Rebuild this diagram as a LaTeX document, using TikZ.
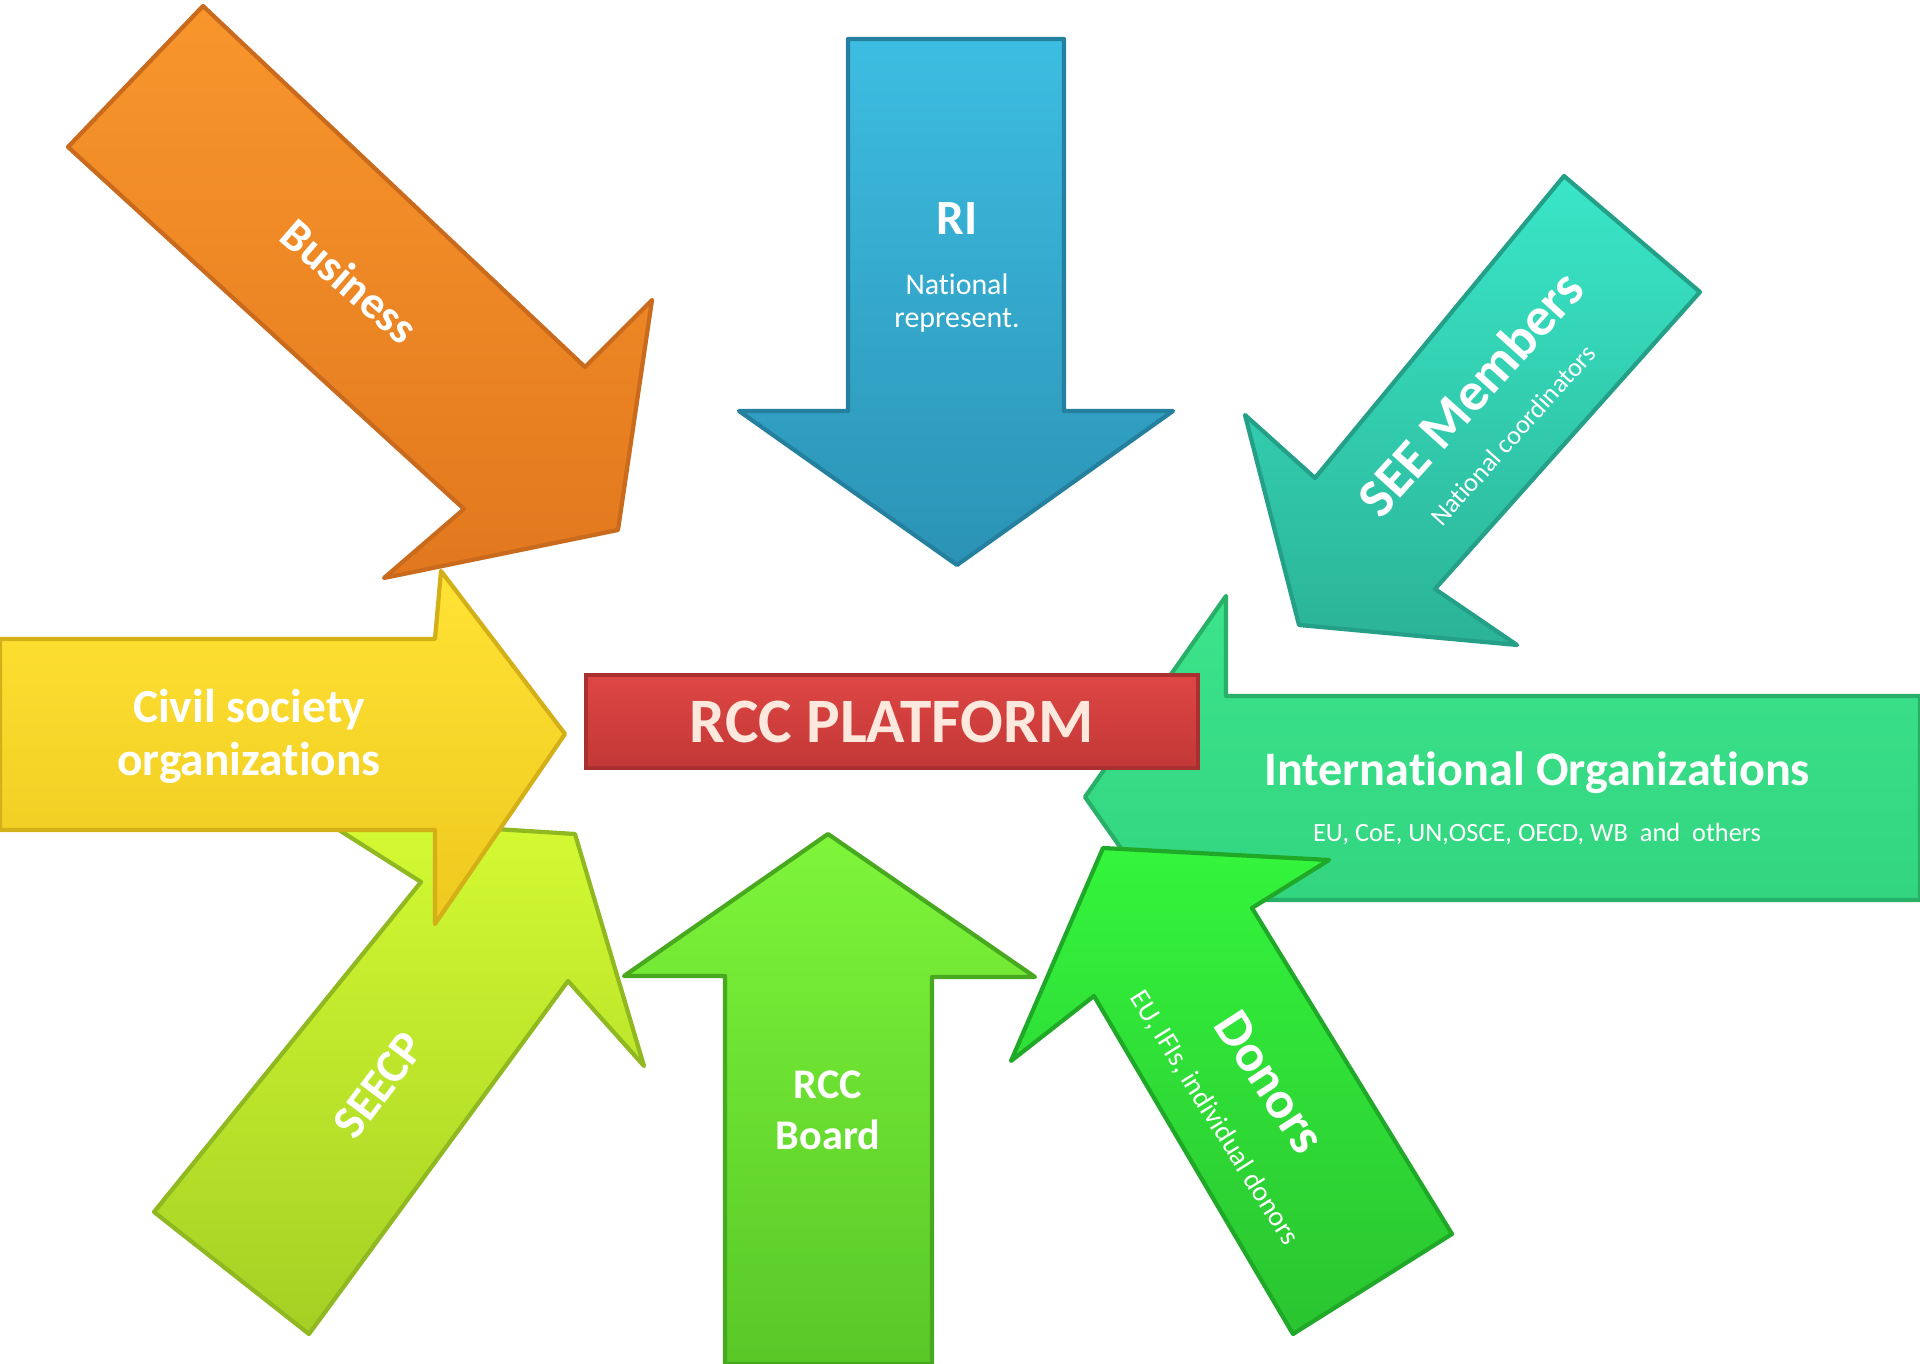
\documentclass[tikz,border=0pt]{standalone}
\usepackage{fontspec}
\setmainfont{Carlito}[Ligatures=NoCommon]
\usepackage{xcolor}
\definecolor{orangetop}{HTML}{F8962C}
\definecolor{orangebot}{HTML}{E2781E}
\definecolor{orangeedge}{HTML}{C96A1C}
\definecolor{bluetop}{HTML}{3DBDE2}
\definecolor{bluebot}{HTML}{2B93B5}
\definecolor{blueedge}{HTML}{2580A0}
\definecolor{tealtop}{HTML}{3AE6C8}
\definecolor{tealbot}{HTML}{2BB396}
\definecolor{tealedge}{HTML}{24A088}
\definecolor{yellowtop}{HTML}{FFE335}
\definecolor{yellowbot}{HTML}{EEC81E}
\definecolor{yellowedge}{HTML}{D4B018}
\definecolor{redtop}{HTML}{DE4644}
\definecolor{redbot}{HTML}{C23836}
\definecolor{rededge}{HTML}{A83030}
\definecolor{intltop}{HTML}{3CE48C}
\definecolor{intlbot}{HTML}{30D07C}
\definecolor{intledge}{HTML}{28B068}
\definecolor{boardtop}{HTML}{7EF53A}
\definecolor{boardbot}{HTML}{58C828}
\definecolor{boardedge}{HTML}{48A820}
\definecolor{donortop}{HTML}{34F53C}
\definecolor{donorbot}{HTML}{2AC430}
\definecolor{donoredge}{HTML}{20A828}
\definecolor{seecptop}{HTML}{D4FA32}
\definecolor{seecpbot}{HTML}{A4D024}
\definecolor{seecpedge}{HTML}{90B820}
\definecolor{platformtext}{HTML}{FCE8DC}

\begin{document}
\begin{tikzpicture}[x=0.01cm,y=-0.01cm,
  blockarrow/.style={line width=1.2pt,line join=round},
  biglabel/.style={text=white,align=center,font=\fontsize{#1}{#1}\selectfont\bfseries},
  smalllabel/.style={text=white,align=center,font=\fontsize{#1}{#1}\selectfont}]
\useasboundingbox (0,0) rectangle (1920,1364);

\draw[blockarrow,draw=seecpedge,top color=seecptop,bottom color=seecpbot] (154,1212) -- (421,882) -- (320,818) -- (575,834) -- (644,1066) -- (568,981) -- (309,1334) -- cycle;
\draw[blockarrow,draw=yellowedge,top color=yellowtop,bottom color=yellowbot] (0,639) -- (435,639) -- (441,571) -- (565,734) -- (435,924) -- (435,830) -- (0,830) -- cycle;
\draw[blockarrow,draw=orangeedge,top color=orangetop,bottom color=orangebot] (203,6) -- (585,367) -- (652,300) -- (618,530) -- (384,578) -- (464,509) -- (68,147) -- cycle;
\draw[blockarrow,draw=blueedge,top color=bluetop,bottom color=bluebot] (848,39) -- (1064,39) -- (1064,411) -- (1173,411) -- (957,565) -- (739,411) -- (848,411) -- cycle;
\draw[blockarrow,draw=tealedge,top color=tealtop,bottom color=tealbot] (1564,176) -- (1700,292) -- (1435,589) -- (1517,645) -- (1299,625) -- (1245,415) -- (1315,478) -- cycle;
\draw[blockarrow,draw=intledge,top color=intltop,bottom color=intlbot] (1920,696) -- (1226,696) -- (1226,596) -- (1085,797) -- (1226,998) -- (1226,900) -- (1920,900) -- cycle;
\node[draw=rededge,line width=1.2pt,top color=redtop,bottom color=redbot,minimum width=6.12cm,minimum height=0.93cm,text=platformtext,font=\fontsize{18}{18}\selectfont\bfseries] (platform) at (892,721.5) {RCC PLATFORM};
\draw[blockarrow,draw=boardedge,top color=boardtop,bottom color=boardbot] (828,834) -- (1035,977) -- (932,977) -- (932,1364) -- (725,1364) -- (725,976) -- (624,976) -- cycle;
\draw[blockarrow,draw=donoredge,top color=donortop,bottom color=donorbot] (1103,848) -- (1329,860) -- (1252,908) -- (1452,1234) -- (1293,1334) -- (1094,996) -- (1011,1061) -- cycle;

\node[biglabel=13,rotate=-41] (business) at (350,281) {Business};
\node[biglabel=14] (ri) at (957,219) {RI};
\node[smalllabel=8.5,font=\fontsize{8.5}{9.4}\selectfont] (rinational) at (957,303) {National\\represent.};
\node[biglabel=15.5,rotate=48] (seemembers) at (1470,393) {SEE Members};
\node[smalllabel=7.5,rotate=48] (seecoord) at (1513,435) {National coordinators};
\node[biglabel=13.5,font=\fontsize{13.5}{15}\selectfont\bfseries] (civil) at (249,736) {Civil society\\organizations};
\node[biglabel=13.7] (intl) at (1537,773) {International Organizations};
\node[smalllabel=7.5] (intlmembers) at (1537,834) {EU, CoE, UN,OSCE, OECD, WB\ \ and\ \ others};
\node[biglabel=13.5,rotate=53] (seecp) at (379,1085) {SEECP};
\node[biglabel=12,font=\fontsize{12}{14.5}\selectfont\bfseries] (board) at (828,1110) {RCC\\Board};
\node[biglabel=15,rotate=-57] (donors) at (1270,1082) {Donors};
\node[smalllabel=8,rotate=-58] (donorlist) at (1214,1118) {EU, IFIs, individual donors};
\end{tikzpicture}
\end{document}
